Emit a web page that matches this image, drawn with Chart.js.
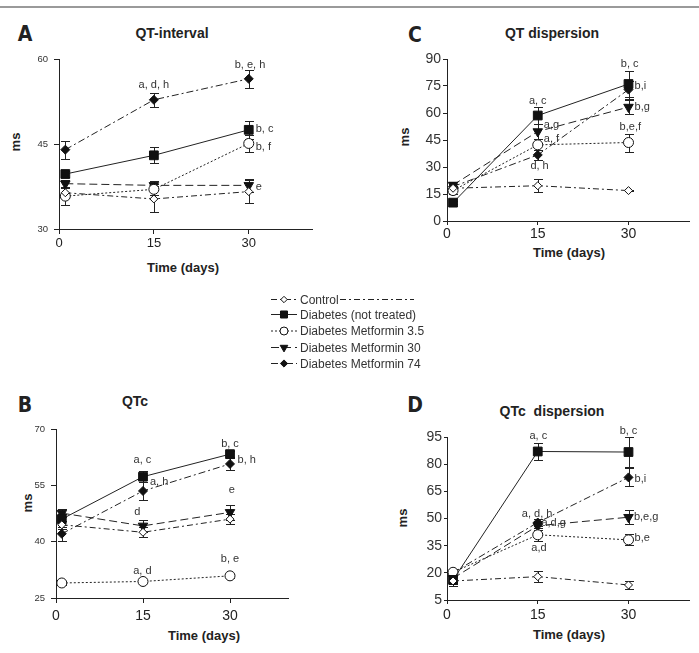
<!DOCTYPE html>
<html>
<head>
<meta charset="utf-8">
<script src="https://cdn.jsdelivr.net/npm/chart.js@4.4.0/dist/chart.umd.min.js"></script>
<style>
  body { margin: 0; background: #fff; width: 699px; height: 653px; overflow: hidden; position: relative;
         font-family: "Liberation Sans", Arial, sans-serif; color: #111; }
  canvas { position: absolute; }
  .txt { position: absolute; white-space: nowrap; line-height: 1; transform: translate(-50%, -50%); }
  .letter { font-family: "Liberation Sans Narrow", "DejaVu Sans Condensed", "Liberation Sans", sans-serif;
            font-weight: bold; font-size: 21px; color: #222; }
  .title { font-weight: bold; font-size: 14px; color: #222; }
  .xlab { font-weight: bold; font-size: 13px; color: #222; }
  .ylab { font-weight: bold; font-size: 13px; color: #222; transform: translate(-50%, -50%) rotate(-90deg); }
  .leg { position: absolute; white-space: nowrap; font-size: 12px; color: #333; line-height: 1; transform: translateY(-50%); }
  #topline { position: absolute; left: 0; top: 6px; width: 699px; height: 2px; background: #9a9a9a; }
</style>
</head>
<body>
<div id="topline"></div>

<div class="txt letter" style="left:25px;top:34px">A</div>
<div class="txt title" style="left:172px;top:33px">QT-interval</div>
<div class="txt ylab" style="left:15px;top:142px">ms</div>
<div class="txt xlab" style="left:183px;top:267px">Time (days)</div>

<div class="txt letter" style="left:415px;top:35px">C</div>
<div class="txt title" style="left:552px;top:33px">QT dispersion</div>
<div class="txt ylab" style="left:404px;top:137px">ms</div>
<div class="txt xlab" style="left:569px;top:252px">Time (days)</div>

<div class="txt letter" style="left:25px;top:405px">B</div>
<div class="txt title" style="left:135px;top:401px">QTc</div>
<div class="txt ylab" style="left:27px;top:503px">ms</div>
<div class="txt xlab" style="left:204px;top:635px">Time (days)</div>

<div class="txt letter" style="left:415px;top:405px">D</div>
<div class="txt title" style="left:552px;top:411px">QTc&nbsp; dispersion</div>
<div class="txt ylab" style="left:402px;top:518px">ms</div>
<div class="txt xlab" style="left:569px;top:634px">Time (days)</div>

<canvas id="legendCanvas" width="200" height="84" style="left:262px;top:290px"></canvas>
<div id="legendText"></div>

<canvas id="chartA"></canvas>
<canvas id="chartB"></canvas>
<canvas id="chartC"></canvas>
<canvas id="chartD"></canvas>

<script>
// shared
const days = [1, 15, 30];
const xTicks = [0, 15, 30];
const seriesNames = ['Control', 'Diabetes (not treated)', 'Diabetes Metformin 3.5', 'Diabetes Metformin 30', 'Diabetes Metformin 74'];

// A: QT-interval
const qtTicks = [30, 45, 60];
const qtControl = [36.4, 35.3, 36.6];
const qtControlErr = [1.0, 2.3, 2.0];
const qtDiabetes = [39.7, 43.0, 47.5];
const qtDiabetesErr = [0.6, 1.4, 1.6];
const qtMet35 = [35.8, 37.0, 45.1];
const qtMet35Err = [1.5, 1.0, 1.5];
const qtMet30 = [38.0, 37.7, 37.7];
const qtMet30Err = [0.7, 0.8, 1.1];
const qtMet74 = [44.0, 52.8, 56.5];
const qtMet74Err = [1.6, 1.2, 1.6];

// B: QTc
const qtcTicks = [25, 40, 55, 70];
const qtcControl = [44.5, 42.5, 46.0];
const qtcControlErr = [1.0, 1.3, 1.3];
const qtcDiabetes = [46.0, 57.3, 63.3];
const qtcDiabetesErr = [1.5, 1.5, 0.8];
const qtcMet35 = [29.0, 29.4, 30.9];
const qtcMet35Err = [0.5, 0.5, 0.5];
const qtcMet30 = [47.6, 44.2, 47.8];
const qtcMet30Err = [1.0, 1.5, 2.0];
const qtcMet74 = [42.1, 53.5, 60.7];
const qtcMet74Err = [1.8, 2.3, 1.5];

// C: QT dispersion
const qtdTicks = [0, 15, 30, 45, 60, 75, 90];
const qtdControl = [18.2, 19.6, 16.9];
const qtdControlErr = [1.0, 3.7, 0.5];
const qtdDiabetes = [10.2, 58.6, 76.1];
const qtdDiabetesErr = [1.0, 4.7, 7.0];
const qtdMet35 = [16.9, 42.3, 43.6];
const qtdMet35Err = [2.0, 3.0, 5.0];
const qtdMet30 = [20.0, 49.7, 63.3];
const qtdMet30Err = [1.5, 4.0, 4.0];
const qtdMet74 = [19.1, 36.7, 73.0];
const qtdMet74Err = [1.5, 3.0, 5.0];

// D: QTc dispersion
const qtcdTicks = [5, 20, 35, 50, 65, 80, 95];
const qtcdControl = [15.5, 17.9, 13.3];
const qtcdControlErr = [3.0, 3.0, 2.0];
const qtcdDiabetes = [16.1, 87.0, 86.7];
const qtcdDiabetesErr = [2.0, 4.5, 8.5];
const qtcdMet35 = [20.3, 41.0, 38.2];
const qtcdMet35Err = [2.0, 3.5, 3.0];
const qtcdMet30 = [17.0, 46.0, 50.7];
const qtcdMet30Err = [2.0, 2.5, 4.0];
const qtcdMet74 = [20.1, 47.8, 72.7];
const qtcdMet74Err = [2.0, 2.0, 5.0];

// significance letters: [day, value, text, align]
const qtNotes = [
  [15, 55.5, 'a, d, h', 'center'], [30.2, 59.0, 'b, e, h', 'center'],
  [31.1, 47.7, 'b, c', 'left'], [31.1, 44.4, 'b, f', 'left'], [31.1, 37.5, 'e', 'left']
];
const qtcNotes = [
  [14.9, 61.8, 'a, c', 'center'], [16.2, 56.0, 'a, h', 'left'], [14, 47.8, 'd', 'center'],
  [30, 65.9, 'b, c', 'center'], [31.3, 61.8, 'b, h', 'left'], [30.3, 53.8, 'e', 'center'],
  [14.9, 32.3, 'a, d', 'center'], [30, 35.4, 'b, e', 'center']
];
const qtdNotes = [
  [15, 66.8, 'a, c', 'center'], [16, 53.4, 'a,g', 'left'], [16, 45.6, 'a, f', 'left'],
  [15.3, 30.8, 'd, h', 'center'], [30.2, 87.2, 'b, c', 'center'], [31, 74.8, 'b,i', 'left'],
  [31, 63.6, 'b,g', 'left'], [30.3, 52.2, 'b,e,f', 'center']
];
const qtcdNotes = [
  [15.1, 95.7, 'a, c', 'center'], [30, 98.5, 'b, c', 'center'], [31, 71.9, 'b,i', 'left'],
  [14.9, 52.6, 'a, d, h', 'center'], [15.6, 47.4, 'a,d,g', 'left'], [15.2, 33.6, 'a,d', 'center'],
  [30.9, 50.7, 'b,e,g', 'left'], [31, 39.1, 'b,e', 'left']
];

// line / marker look per group (same order as seriesNames)
const looks = [
  { dash: [6, 3, 2, 3], pointStyle: 'rectRot', radius: 4, fill: '#fff', rotation: 0 },
  { dash: [], pointStyle: 'rect', radius: 6.2, fill: '#111', rotation: 0 },
  { dash: [2, 2], pointStyle: 'circle', radius: 5, fill: '#fff', rotation: 0 },
  { dash: [8, 4], pointStyle: 'triangle', radius: 5.5, fill: '#111', rotation: 180 },
  { dash: [7, 3, 2, 3], pointStyle: 'rectRot', radius: 4.5, fill: '#111', rotation: 0 }
];

const errorBars = {
  id: 'errorBars',
  beforeDatasetsDraw(chart) {
    const ctx = chart.ctx;
    const yScale = chart.scales.y;
    ctx.save();
    ctx.strokeStyle = '#222';
    ctx.lineWidth = 1;
    chart.data.datasets.forEach((ds, i) => {
      chart.getDatasetMeta(i).data.forEach((pt, j) => {
        const e = ds.err[j];
        if (!e) return;
        const v = ds.data[j].y;
        const x = Math.round(pt.x) + 0.5;
        const lo = Math.round(yScale.getPixelForValue(v - e)) + 0.5;
        const hi = Math.round(yScale.getPixelForValue(v + e)) + 0.5;
        ctx.beginPath();
        ctx.moveTo(x, lo); ctx.lineTo(x, hi);
        ctx.moveTo(x - 4.5, lo); ctx.lineTo(x + 4.5, lo);
        ctx.moveTo(x - 4.5, hi); ctx.lineTo(x + 4.5, hi);
        ctx.stroke();
      });
    });
    ctx.restore();
  }
};

function notesPlugin(notes) {
  return {
    id: 'notes',
    afterDatasetsDraw(chart) {
      const ctx = chart.ctx;
      ctx.save();
      ctx.fillStyle = '#333';
      ctx.font = '11px "Liberation Sans", Arial, sans-serif';
      ctx.textBaseline = 'middle';
      notes.forEach(([d, v, text, align]) => {
        ctx.textAlign = align;
        ctx.fillText(text, chart.scales.x.getPixelForValue(d), chart.scales.y.getPixelForValue(v));
      });
      ctx.restore();
    }
  };
}

function makePanel(id, area, yTicks, values, errors, notes, fonts) {
  const padL = 45, padT = 15, padR = 15, padB = 32;
  const canvas = document.getElementById(id);
  const w = area.right - area.left + padL + padR;
  const h = area.bottom - area.top + padT + padB;
  canvas.width = w; canvas.height = h;
  canvas.style.left = (area.left - padL) + 'px';
  canvas.style.top = (area.top - padT) + 'px';

  const datasets = values.map((vals, i) => ({
    label: seriesNames[i],
    data: days.map((d, j) => ({ x: d, y: vals[j] })),
    err: errors[i],
    borderColor: '#222',
    borderWidth: 1,
    borderDash: looks[i].dash,
    pointStyle: looks[i].pointStyle,
    pointRadius: looks[i].radius,
    pointRotation: looks[i].rotation,
    pointBackgroundColor: looks[i].fill,
    pointBorderColor: '#111',
    pointBorderWidth: 1,
    tension: 0,
    fill: false,
    clip: false
  }));

  new Chart(canvas.getContext('2d'), {
    type: 'line',
    data: { datasets },
    options: {
      responsive: false,
      animation: false,
      events: [],
      layout: { padding: { top: padT, right: padR, left: 0, bottom: 0 } },
      plugins: { legend: { display: false }, tooltip: { enabled: false } },
      scales: {
        x: {
          type: 'linear', min: 0, max: 40,
          afterBuildTicks: s => { s.ticks = xTicks.map(v => ({ value: v })); },
          afterFit: s => { s.height = padB; },
          grid: { drawOnChartArea: false, tickLength: fonts.xTick, color: '#222' },
          border: { color: '#222', width: 1 },
          ticks: { color: '#222', padding: fonts.xPad, font: { size: fonts.x, family: '"Liberation Sans", Arial, sans-serif' } }
        },
        y: {
          type: 'linear', min: yTicks[0], max: yTicks[yTicks.length - 1],
          afterBuildTicks: s => { s.ticks = yTicks.map(v => ({ value: v })); },
          afterFit: s => { s.width = padL; },
          grid: { drawOnChartArea: false, tickLength: fonts.yTick, color: '#222' },
          border: { color: '#222', width: 1 },
          ticks: { color: '#333', padding: fonts.yPad, font: { size: fonts.y, family: '"Liberation Sans", Arial, sans-serif' } }
        }
      }
    },
    plugins: [errorBars, notesPlugin(notes)]
  });
}

makePanel('chartA', { left: 59, top: 59, right: 312, bottom: 229 }, qtTicks,
  [qtControl, qtDiabetes, qtMet35, qtMet30, qtMet74],
  [qtControlErr, qtDiabetesErr, qtMet35Err, qtMet30Err, qtMet74Err], qtNotes,
  { x: 13, xTick: 5, xPad: 2, y: 9.5, yTick: 5, yPad: 6 });

makePanel('chartC', { left: 447, top: 59, right: 689, bottom: 221 }, qtdTicks,
  [qtdControl, qtdDiabetes, qtdMet35, qtdMet30, qtdMet74],
  [qtdControlErr, qtdDiabetesErr, qtdMet35Err, qtdMet30Err, qtdMet74Err], qtdNotes,
  { x: 14, xTick: 4, xPad: 1, y: 14, yTick: 4, yPad: 2 });

makePanel('chartB', { left: 56, top: 429, right: 288, bottom: 598 }, qtcTicks,
  [qtcControl, qtcDiabetes, qtcMet35, qtcMet30, qtcMet74],
  [qtcControlErr, qtcDiabetesErr, qtcMet35Err, qtcMet30Err, qtcMet74Err], qtcNotes,
  { x: 14, xTick: 5, xPad: 5, y: 9.5, yTick: 5, yPad: 6 });

makePanel('chartD', { left: 447, top: 437, right: 689, bottom: 600 }, qtcdTicks,
  [qtcdControl, qtcdDiabetes, qtcdMet35, qtcdMet30, qtcdMet74],
  [qtcdControlErr, qtcdDiabetesErr, qtcdMet35Err, qtcdMet30Err, qtcdMet74Err], qtcdNotes,
  { x: 14, xTick: 4, xPad: 3, y: 14, yTick: 3, yPad: 2 });

// legend
const lctx = document.getElementById('legendCanvas').getContext('2d');
const rowY = [9.5, 24.5, 41, 57.5, 73.5];
const legendText = document.getElementById('legendText');
seriesNames.forEach((name, i) => {
  lctx.save();
  lctx.strokeStyle = '#222';
  lctx.lineWidth = 1;
  lctx.setLineDash(looks[i].dash);
  lctx.beginPath();
  lctx.moveTo(9, rowY[i]); lctx.lineTo(35, rowY[i]);
  if (i === 0) { lctx.moveTo(78, rowY[i]); lctx.lineTo(152, rowY[i]); }
  lctx.stroke();
  lctx.setLineDash([]);
  lctx.fillStyle = looks[i].fill;
  lctx.strokeStyle = '#111';
  Chart.helpers.drawPoint(lctx, {
    pointStyle: looks[i].pointStyle, radius: looks[i].radius * 0.8,
    rotation: looks[i].rotation, borderWidth: 1
  }, 22, rowY[i]);
  lctx.restore();
  const span = document.createElement('div');
  span.className = 'leg';
  span.style.left = '300px';
  span.style.top = (290 + rowY[i]) + 'px';
  span.textContent = name;
  legendText.appendChild(span);
});
</script>
</body>
</html>
